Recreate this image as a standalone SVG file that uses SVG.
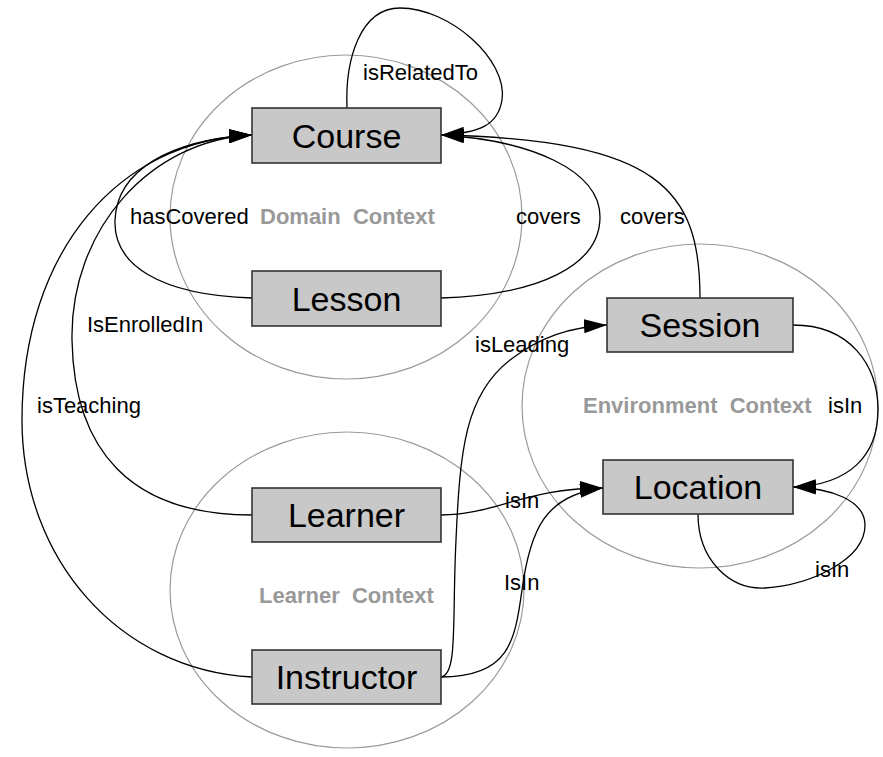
<svg xmlns="http://www.w3.org/2000/svg" width="883" height="757" viewBox="0 0 883 757">
<style>
.ctx{fill:none;stroke:#9a9a9a;stroke-width:1.2}
.ctxl{font-family:"Liberation Sans",Arial,sans-serif;font-size:22px;font-weight:bold;fill:#999}
.edge{fill:none;stroke:#000;stroke-width:1.3}
.lbl{font-family:"Liberation Sans",Arial,sans-serif;font-size:22px;fill:#000}
.box{fill:#c8c8c8;stroke:#333;stroke-width:1.6}
.nt{font-family:"Liberation Sans",Arial,sans-serif;font-size:34px;fill:#000;text-anchor:middle}
</style>
<defs>
<marker id="arr" markerUnits="userSpaceOnUse" markerWidth="23" markerHeight="14" refX="23" refY="7" orient="auto">
<path d="M0,0 L23,7 L0,14 z" fill="#000"/>
</marker>
</defs>
<rect width="883" height="757" fill="#fff"/>
<g id="contexts">
<ellipse class="ctx" cx="346" cy="217" rx="176" ry="162"/>
<ellipse class="ctx" cx="700" cy="406" rx="178" ry="162"/>
<ellipse class="ctx" cx="347" cy="590" rx="177" ry="158"/>
<text class="ctxl" x="260" y="224" xml:space="preserve">Domain  Context</text>
<text class="ctxl" x="583" y="413" xml:space="preserve">Environment  Context</text>
<text class="ctxl" x="259" y="603" xml:space="preserve">Learner  Context</text>
</g>
<g id="connectors">
<path class="edge" marker-end="url(#arr)" d="M347,108 C345,60 360,8 400,8 C450,8 508,60 502,100 C498,125 480,133 441,135"/>
<path class="edge" marker-end="url(#arr)" d="M252,298 C160,295 113,265 115,220 C117,170 170,140 252,135"/>
<path class="edge" marker-end="url(#arr)" d="M441,298 C540,295 600,265 600,217 C600,170 530,140 441,135"/>
<path class="edge" marker-end="url(#arr)" d="M700,298 C700,190 660,140 441,135"/>
<path class="edge" marker-end="url(#arr)" d="M441,677 C458,675 452,620 456,540 C460,450 465,395 510,360 C540,337 570,327 607,325"/>
<path class="edge" marker-end="url(#arr)" d="M441,515 C495,515 525,488 603,488"/>
<path class="edge" marker-end="url(#arr)" d="M441,677 C510,677 515,640 522,590 C530,530 545,495 603,488"/>
<path class="edge" marker-end="url(#arr)" d="M793,325 C850,325 878,365 878,410 C878,455 850,485 793,487"/>
<path class="edge" marker-end="url(#arr)" d="M698,514 C698,560 730,590 765,588 C810,585 865,560 865,525 C865,500 830,488 793,487"/>
<path class="edge" marker-end="url(#arr)" d="M252,515 C130,515 74,450 72,340 C70,230 150,140 252,135"/>
<path class="edge" marker-end="url(#arr)" d="M252,677 C120,670 22,560 22,420 C22,250 120,140 252,135"/>
<text class="lbl" x="363" y="80">isRelatedTo</text>
<text class="lbl" x="130" y="224">hasCovered</text>
<text class="lbl" x="516" y="224">covers</text>
<text class="lbl" x="620" y="224">covers</text>
<text class="lbl" x="87" y="332">IsEnrolledIn</text>
<text class="lbl" x="37" y="413">isTeaching</text>
<text class="lbl" x="475" y="352">isLeading</text>
<text class="lbl" x="828" y="413">isIn</text>
<text class="lbl" x="505" y="508">isIn</text>
<text class="lbl" x="504" y="590">IsIn</text>
<text class="lbl" x="815" y="577">isIn</text>
</g>
<g id="Course"><rect class="box" x="252" y="108" width="189" height="55"/><text class="nt" x="346.5" y="148">Course</text></g>
<g id="Lesson"><rect class="box" x="252" y="271" width="189" height="55"/><text class="nt" x="346.5" y="311">Lesson</text></g>
<g id="Session"><rect class="box" x="607" y="298" width="186" height="54"/><text class="nt" x="700" y="337">Session</text></g>
<g id="Location"><rect class="box" x="603" y="460" width="190" height="54"/><text class="nt" x="698" y="499">Location</text></g>
<g id="Learner"><rect class="box" x="252" y="488" width="189" height="54"/><text class="nt" x="346.5" y="527">Learner</text></g>
<g id="Instructor"><rect class="box" x="252" y="650" width="189" height="54"/><text class="nt" x="346.5" y="689">Instructor</text></g>
</svg>
